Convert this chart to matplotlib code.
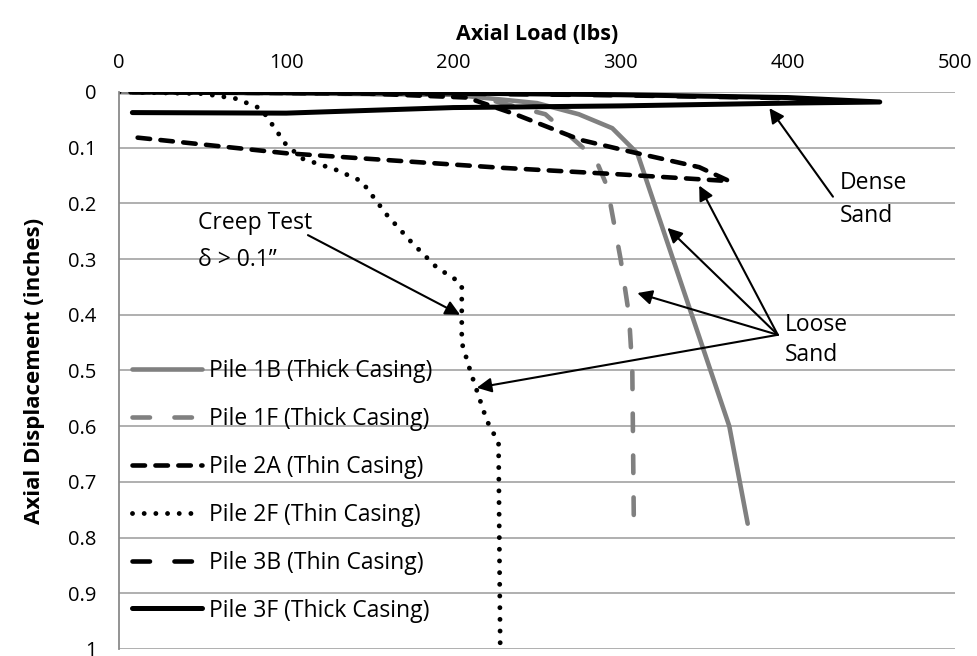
import matplotlib
matplotlib.use("Agg")
import matplotlib.pyplot as plt

plt.rcParams['font.family'] = ['Open Sans', 'DejaVu Sans']
plt.rcParams['lines.scale_dashes'] = False

# load (lbs) / displacement (in) for each pile test
p1b_load = [0, 200, 250, 275, 295, 310, 365, 376]
p1b_disp = [0, 0.005, 0.02, 0.04, 0.065, 0.11, 0.6, 0.775]

p1f_load = [0, 210, 255, 285, 292, 300, 305, 307, 308]
p1f_disp = [0, 0.005, 0.04, 0.12, 0.17, 0.3, 0.4, 0.5, 0.8]

p2a_load = [8, 150, 208, 237, 276, 307, 347, 365, 300, 228, 100, 8]
p2a_disp = [0, 0.003, 0.01, 0.04, 0.086, 0.108, 0.135, 0.16, 0.148, 0.136, 0.11, 0.081]

p2f_load = [0, 50, 70, 85, 92, 100, 110, 130, 145, 160, 175, 190, 203, 205, 205, 210, 220, 227, 228]
p2f_disp = [0, 0.003, 0.012, 0.03, 0.06, 0.095, 0.12, 0.14, 0.16, 0.22, 0.27, 0.315, 0.34, 0.35, 0.45, 0.5, 0.59, 0.63, 1.0]

p3b_load = [8, 200, 300, 380, 412]
p3b_disp = [0, 0.003, 0.006, 0.01, 0.012]

p3f_load = [8, 200, 300, 400, 455, 400, 300, 200, 100, 8]
p3f_disp = [0, 0.002, 0.005, 0.01, 0.018, 0.02, 0.025, 0.028, 0.038, 0.037]

gray = '#808080'
fs_tick = 14.5
fs = 16.5

fig = plt.figure(figsize=(9.77, 6.56), dpi=100)
ax = fig.add_axes([0.1218, 0.0107, 0.8557, 0.8491])

ax.plot(p1b_load, p1b_disp, color=gray, lw=3.3, solid_capstyle='round',
        label='Pile 1B (Thick Casing)')
ax.plot(p1f_load, p1f_disp, color=gray, lw=3.3, dashes=(12.6, 17.6),
        dash_capstyle='round', label='Pile 1F (Thick Casing)')
ax.plot(p2a_load, p2a_disp, color='black', lw=3.3, dashes=(9, 7.5),
        dash_capstyle='round', label='Pile 2A (Thin Casing)')
ax.plot(p2f_load, p2f_disp, color='black', lw=3.5, dashes=(0.01, 8.4),
        dash_capstyle='round', label='Pile 2F (Thin Casing)')
ax.plot(p3b_load, p3b_disp, color='black', lw=3.3, dashes=(12.6, 17.6),
        dash_capstyle='round', label='Pile 3B (Thin Casing)')
ax.plot(p3f_load, p3f_disp, color='black', lw=3.6, solid_capstyle='round',
        label='Pile 3F (Thick Casing)')

ax.set_xlim(0, 500)
ax.set_ylim(1, 0)
ax.set_xticks([0, 100, 200, 300, 400, 500])
ax.set_yticks([i / 10 for i in range(11)])
ax.set_yticklabels(['0', '0.1', '0.2', '0.3', '0.4', '0.5', '0.6', '0.7', '0.8', '0.9', '1'])
ax.xaxis.tick_top()
ax.xaxis.set_label_position('top')
ax.tick_params(length=0, labelsize=fs_tick)
ax.tick_params(axis='x', pad=14)
ax.tick_params(axis='y', pad=16)
ax.set_xlabel('Axial Load (lbs)', fontsize=15.5, fontweight='bold', labelpad=9)
ax.set_ylabel('Axial Displacement (inches)', fontsize=16, fontweight='bold', labelpad=17)

ax.grid(axis='y', color='#9a9a9a', lw=1.1)
ax.set_axisbelow(True)
for side in ['top', 'right', 'bottom']:
    ax.spines[side].set_visible(False)
ax.spines['left'].set_color('#8a8a8a')
ax.spines['left'].set_linewidth(1.3)

leg = ax.legend(loc='upper left', bbox_to_anchor=(0.016, 0.52), frameon=False,
                fontsize=fs, handlelength=3.05, handletextpad=0.3,
                labelspacing=1.04, borderpad=0, borderaxespad=0)

arrow = dict(arrowstyle='-|>', color='black', lw=1.5, mutation_scale=22,
             shrinkA=0, shrinkB=0)

ax.text(431, 0.163, 'Dense', fontsize=fs, va='center')
ax.text(431, 0.222, 'Sand', fontsize=fs, va='center')
ax.annotate('', xy=(389, 0.029), xytext=(427, 0.188), arrowprops=arrow)

ax.text(398, 0.418, 'Loose', fontsize=fs, va='center')
ax.text(398, 0.472, 'Sand', fontsize=fs, va='center')
for tip in [(347, 0.168), (328, 0.244), (310, 0.361), (214, 0.531)]:
    ax.annotate('', xy=tip, xytext=(394, 0.436), arrowprops=arrow)

ax.text(47, 0.235, 'Creep Test', fontsize=fs, va='center')
ax.text(47, 0.302, 'δ > 0.1”', fontsize=fs, va='center')
ax.annotate('', xy=(204, 0.40), xytext=(113, 0.257), arrowprops=arrow)

fig.savefig('out.png', dpi=100)
